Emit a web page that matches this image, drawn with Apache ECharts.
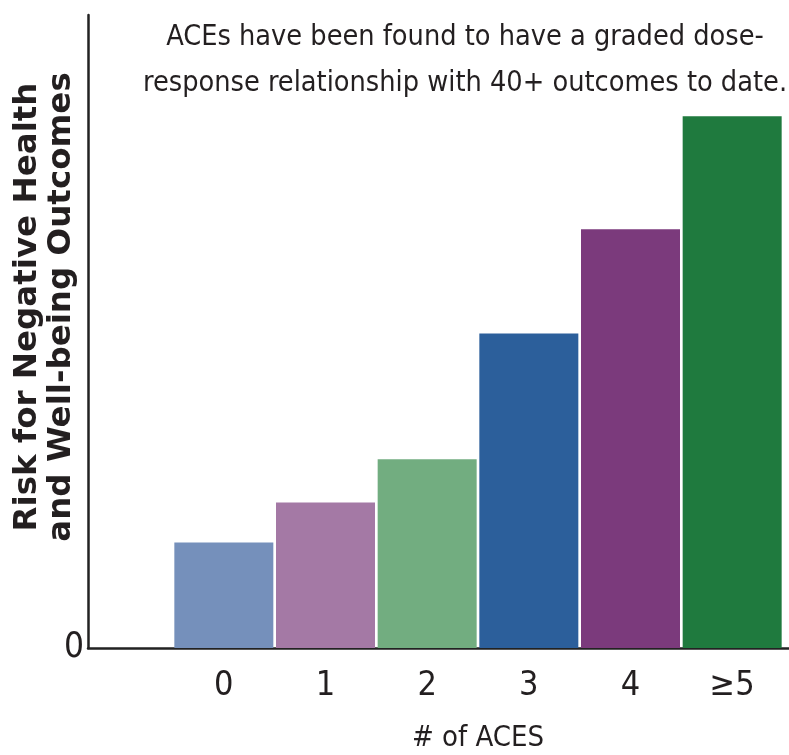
<!DOCTYPE html>
<html>
<head>
<meta charset="utf-8">
<script src="https://cdn.jsdelivr.net/npm/echarts@6/dist/echarts.min.js"></script>
<style>
  html, body { margin: 0; padding: 0; background: #ffffff; }
  #chart { width: 789px; height: 755px; }
</style>
</head>
<body>
<div id="chart"></div>
<script>
// Number of adverse childhood experiences and relative risk level
const categories = ['0', '1', '2', '3', '4', '≥5'];
const riskValues = [1.0, 1.38, 1.79, 2.98, 3.97, 5.04];
const barColors = ['#7590bb', '#a479a5', '#72ad80', '#2c5f9b', '#7b3a7c', '#1f7a3e'];
const yTickLabels = ['0'];
const yMax = 6;
const yAxisTitle = 'Risk for Negative Health\nand Well-being Outcomes';

const narrow = '"Liberation Sans Narrow", "DejaVu Sans Condensed", sans-serif';
const ink = '#231f20';

const chart = echarts.init(document.getElementById('chart'), null, { renderer: 'canvas' });

chart.setOption({
  backgroundColor: '#ffffff',
  animation: false,
  title: {
    text: 'ACEs have been found to have a graded dose-\nresponse relationship with 40+ outcomes to date.',
    left: 460,
    top: 10,
    textAlign: 'center',
    textStyle: {
      fontFamily: narrow,
      fontSize: 28.6,
      fontWeight: 'normal',
      lineHeight: 46,
      color: ink
    }
  },
  // Rotated two-line title for the value axis
  graphic: [
    {
      type: 'text',
      x: 45,
      y: 307,
      rotation: Math.PI / 2,
      style: {
        text: yAxisTitle,
        fontFamily: '"DejaVu Sans", sans-serif',
        fontWeight: 'bold',
        fontSize: 32.5,
        lineHeight: 34,
        fill: ink,
        textAlign: 'center',
        textVerticalAlign: 'middle'
      }
    }
  ],
  grid: [
    { left: 88, right: 0, top: 15, bottom: 107, containLabel: false, outerBoundsMode: 'none' },
    { left: 173, right: 6, top: 15, bottom: 107, containLabel: false, outerBoundsMode: 'none' }
  ],
  xAxis: [
    {
      gridIndex: 0,
      type: 'value',
      min: 0,
      max: 1,
      axisLine: { show: true, lineStyle: { color: '#222', width: 2.5 } },
      axisTick: { show: false },
      axisLabel: { show: false },
      splitLine: { show: false }
    },
    {
      gridIndex: 1,
      type: 'category',
      data: categories,
      axisLine: { show: false },
      axisTick: { show: false },
      axisLabel: {
        margin: 21,
        fontFamily: narrow,
        fontSize: 34,
        color: ink
      },
      name: '# of ACES',
      nameLocation: 'middle',
      nameGap: 76,
      nameTextStyle: {
        fontFamily: narrow,
        fontSize: 29,
        color: ink
      }
    }
  ],
  yAxis: [
    {
      gridIndex: 0,
      type: 'value',
      min: 0,
      max: yMax,
      interval: yMax,
      axisLine: { show: true, lineStyle: { color: '#222', width: 2.5 } },
      axisTick: { show: false },
      splitLine: { show: false },
      axisLabel: {
        margin: 4,
        fontFamily: narrow,
        fontSize: 35,
        color: ink,
        padding: [9, 0, 0, 0],
        formatter: function (v) { return v === 0 ? yTickLabels[0] : ''; }
      }
    },
    {
      gridIndex: 1,
      type: 'value',
      min: 0,
      max: yMax,
      show: false
    }
  ],
  series: [
    {
      type: 'bar',
      xAxisIndex: 1,
      yAxisIndex: 1,
      barWidth: 99,
      data: riskValues.map(function (v, i) {
        return { value: v, itemStyle: { color: barColors[i] } };
      })
    }
  ]
});
</script>
</body>
</html>
